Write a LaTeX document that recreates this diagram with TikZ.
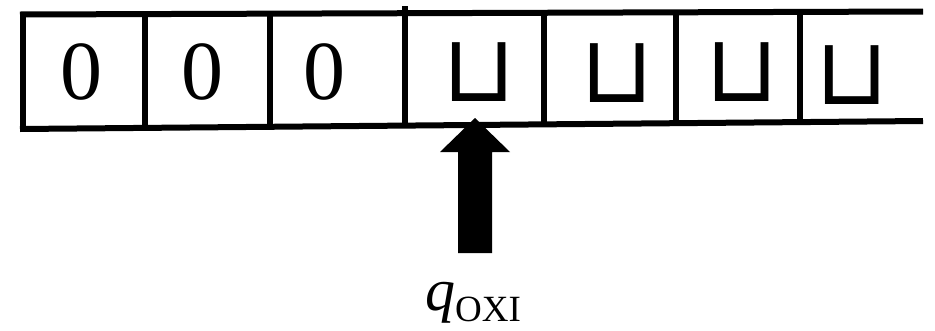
\documentclass[tikz,border=0pt]{standalone}
\usepackage{fontspec}
\setmainfont{Liberation Serif}
\newfontfamily\symfont{DejaVu Sans}
\begin{document}
\begin{tikzpicture}[x=1pt,y=-1pt,
  tapeline/.style={line width=6pt,line cap=butt},
  zerosym/.style={inner sep=0pt,font=\fontsize{84}{84}\selectfont},
  blanksym/.style={inner sep=0pt,font=\symfont\fontsize{94}{94}\selectfont},
  headlabel/.style={inner sep=0pt,anchor=base west}]
\useasboundingbox (0,0) rectangle (935,330);
% tape
\coordinate (tl) at (20,14.5);
\coordinate (tr) at (923,11.5);
\coordinate (bl) at (20,129);
\coordinate (br) at (923,121);
\draw[tapeline] (tl) -- (tr);
\draw[tapeline] (bl) -- (br);
\draw[tapeline] (22.5,12) -- (22.5,131.5);
\draw[tapeline] (145,14) -- (145,128);
\draw[tapeline] (270,14) -- (270,128);
\draw[tapeline] (405,6) -- (405,127);
\draw[tapeline] (544,13) -- (544,124);
\draw[tapeline] (676,12) -- (676,126);
\draw[tapeline] (800,12) -- (800,125);
% symbols
\node[zerosym] (c1) at (81,72) {0};
\node[zerosym] (c2) at (202,72) {0};
\node[zerosym] (c3) at (324,72) {0};
\node[blanksym] (c4) at (479,72) {⊔};
\node[blanksym] (c5) at (617,73) {⊔};
\node[blanksym] (c6) at (742,72) {⊔};
\node[blanksym] (c7) at (852,75) {⊔};
% head arrow
\coordinate (tip) at (475,118);
\fill (tip) -- (510,152) -- (492,152) -- (492,253) -- (458,253) -- (458,152) -- (440,152) -- cycle;
\node[headlabel] (q) at (425,310) {\fontsize{60}{60}\selectfont\textit{q}\raisebox{-11pt}{\fontsize{37}{37}\selectfont OXI}};
\end{tikzpicture}
\end{document}
